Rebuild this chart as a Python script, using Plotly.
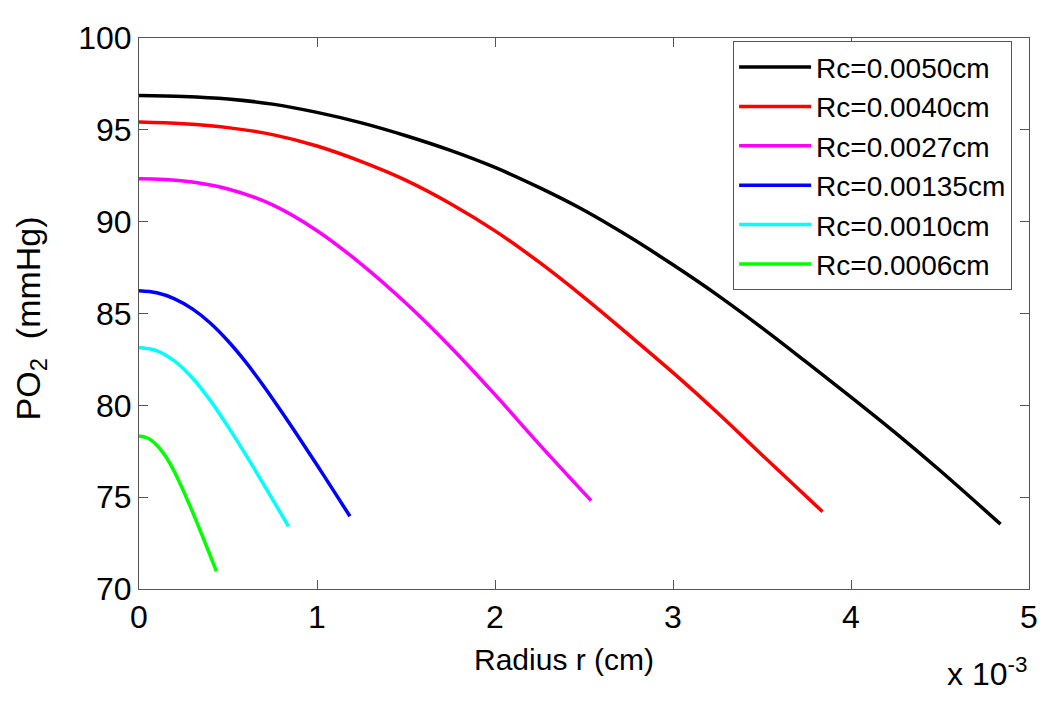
import plotly.graph_objects as go

# radius in units of 1e-3 cm, PO2 in mmHg
labels = ["Rc=0.0050cm", "Rc=0.0040cm", "Rc=0.0027cm", "Rc=0.00135cm", "Rc=0.0010cm", "Rc=0.0006cm"]
colors = ["#000000", "#ff0000", "#ff00ff", "#0000ff", "#00ffff", "#00ff00"]

r_0050 = [0, 0.25, 0.5, 0.75, 1.0, 1.25, 1.5, 1.75, 2.0, 2.25, 2.5, 2.75, 3.0, 3.25, 3.5, 3.75, 4.0, 4.25, 4.5, 4.84]
p_0050 = [96.87, 96.82, 96.68, 96.40, 95.95, 95.38, 94.68, 93.88, 92.95, 91.85, 90.62, 89.20, 87.65,
          86.00, 84.22, 82.35, 80.45, 78.50, 76.45, 73.53]

r_0040 = [0, 0.25, 0.5, 0.75, 1.0, 1.25, 1.5, 1.75, 2.0, 2.25, 2.5, 2.75, 3.0, 3.25, 3.5, 3.84]
p_0040 = [95.42, 95.33, 95.12, 94.74, 94.12, 93.27, 92.25, 90.98, 89.50, 87.78, 85.88, 83.85, 81.78,
          79.60, 77.30, 74.21]

r_0027 = [0, 0.25, 0.5, 0.75, 1.0, 1.25, 1.5, 1.75, 2.0, 2.25, 2.54]
p_0027 = [92.33, 92.21, 91.78, 90.91, 89.51, 87.68, 85.56, 83.18, 80.58, 77.86, 74.81]

r_00135 = [0, 0.1, 0.2, 0.3, 0.4, 0.5, 0.6, 0.7, 0.8, 0.9, 1.0, 1.1, 1.185]
p_00135 = [86.24, 86.13, 85.80, 85.25, 84.48, 83.50, 82.35, 81.05, 79.66, 78.22, 76.75, 75.25, 73.96]

r_0010 = [0, 0.1, 0.2, 0.3, 0.4, 0.5, 0.6, 0.7, 0.84]
p_0010 = [83.15, 82.97, 82.41, 81.49, 80.27, 78.84, 77.30, 75.70, 73.41]

r_0006 = [0, 0.05, 0.1, 0.15, 0.2, 0.25, 0.3, 0.35, 0.4, 0.435]
p_0006 = [78.33, 78.21, 77.83, 77.21, 76.36, 75.33, 74.21, 73.03, 71.82, 70.96]

series = [(r_0050, p_0050), (r_0040, p_0040), (r_0027, p_0027),
          (r_00135, p_00135), (r_0010, p_0010), (r_0006, p_0006)]

FONT = "Liberation Sans, Arial, Helvetica, sans-serif"

fig = go.Figure()
for (r, p), name, c in zip(series, labels, colors):
    fig.add_trace(go.Scatter(
        x=r, y=p, mode="lines", name=name,
        line=dict(color=c, width=3.5, shape="spline", smoothing=1.0)
    ))

axis_style = dict(
    showgrid=False, zeroline=False,
    showline=True, linecolor="#555", linewidth=1, mirror="ticks",
    ticks="inside", ticklen=9, tickcolor="#555", tickwidth=1,
    tickfont=dict(family=FONT, size=32, color="black"),
)

# page body has an 8px margin, so the figure is drawn 8px smaller
fig.update_layout(
    width=1042, height=694,
    paper_bgcolor="white", plot_bgcolor="white",
    margin=dict(l=131, r=21, t=25, b=113),
    font=dict(family=FONT, color="black"),
    xaxis=dict(range=[0, 5], tickvals=[0, 1, 2, 3, 4, 5], **axis_style),
    yaxis=dict(range=[70, 100], tickvals=[70, 75, 80, 85, 90, 95, 100], **axis_style),
    legend=dict(
        x=0.981, y=0.994, xanchor="right", yanchor="top",
        bgcolor="white", bordercolor="#555", borderwidth=1,
        font=dict(family=FONT, size=28, color="black"),
        itemwidth=72, tracegroupgap=0,
    ),
    annotations=[
        dict(text="Radius r (cm)", xref="paper", yref="paper",
             x=0.4775, y=-0.128, xanchor="center", yanchor="middle",
             showarrow=False, font=dict(family=FONT, size=30, color="black")),
        dict(text="PO<sub>2</sub>  (mmHg)", xref="paper", yref="paper",
             x=-0.1225, y=0.491, xanchor="center", yanchor="middle", textangle=-90,
             showarrow=False, font=dict(family=FONT, size=34, color="black")),
        dict(text="x 10<sup>-3</sup>", xref="paper", yref="paper",
             x=1.0, y=-0.15, xanchor="right", yanchor="middle",
             showarrow=False, font=dict(family=FONT, size=32, color="black")),
    ],
)

fig.write_html("out.html")
